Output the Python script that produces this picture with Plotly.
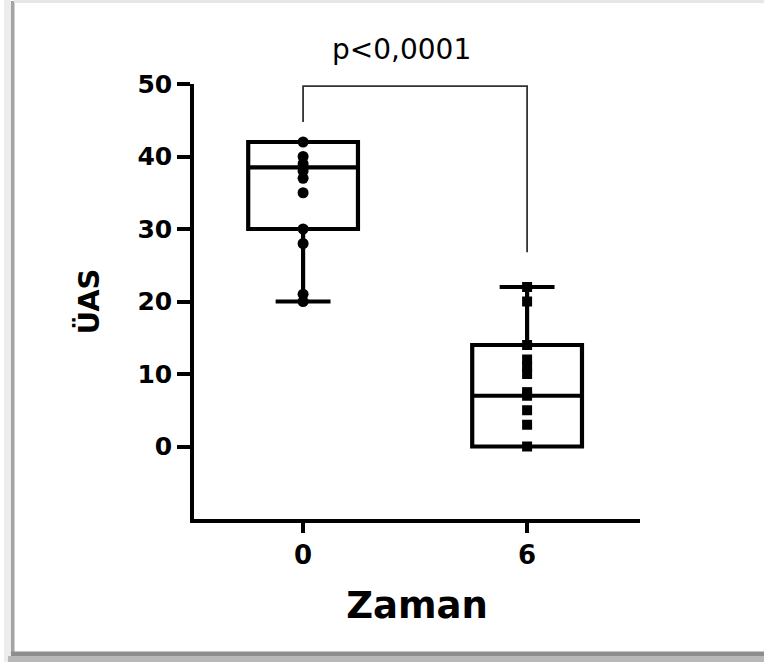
import plotly.graph_objects as go

# ---- data ----
categories = ["0", "6"]
q1 = [30, 0]
median = [38.5, 7]
q3 = [42, 14]
lower_whisker = [20, 0]
upper_whisker = [42, 22]
points_0 = [42, 40, 39, 38.5, 38, 37, 35, 30, 28, 21, 20]
points_6 = [22, 20, 14, 12, 11, 10, 7.5, 7, 5, 3, 0]
bracket_y = [44.75, 49.7, 49.7, 26.8]
p_text = "p<0,0001"
y_ticks = [0, 10, 20, 30, 40, 50]

FONT = "DejaVu Sans"

fig = go.Figure()

fig.add_trace(go.Box(
    x=categories, q1=q1, median=median, q3=q3,
    lowerfence=lower_whisker, upperfence=upper_whisker,
    boxpoints=False, width=0.49, whiskerwidth=0.5,
    fillcolor="white", line=dict(color="black", width=4.2),
    hoverinfo="skip", showlegend=False,
))

fig.add_trace(go.Scatter(
    x=[categories[0]] * len(points_0), y=points_0, mode="markers",
    marker=dict(symbol="circle", size=11, color="black"),
    cliponaxis=False, showlegend=False, hoverinfo="skip",
))
fig.add_trace(go.Scatter(
    x=[categories[1]] * len(points_6), y=points_6, mode="markers",
    marker=dict(symbol="square", size=10, color="black"),
    cliponaxis=False, showlegend=False, hoverinfo="skip",
))

fig.add_trace(go.Scatter(
    x=[categories[0], categories[0], categories[1], categories[1]], y=bracket_y,
    mode="lines", line=dict(color="#333333", width=1.8),
    cliponaxis=False, showlegend=False, hoverinfo="skip",
))

L, R, T, B = 194, 124, 84, 143
W, H = 764, 662
PW, PH = W - L - R, H - T - B

def px(x):
    return (x - L) / PW

def py(y):
    return (H - B - y) / PH

shapes = [
    dict(type="rect", xref="paper", yref="paper", x0=px(4), x1=px(11), y0=py(0), y1=py(662),
         fillcolor="#ececec", line_width=0, layer="below"),
    dict(type="rect", xref="paper", yref="paper", x0=px(11), x1=px(14.5), y0=py(1), y1=py(656),
         fillcolor="#a3a3a3", line_width=0, layer="below"),
    dict(type="rect", xref="paper", yref="paper", x0=px(14), x1=px(764), y0=py(0), y1=py(3),
         fillcolor="#e6e6e6", line_width=0, layer="below"),
    dict(type="rect", xref="paper", yref="paper", x0=px(11), x1=px(764), y0=py(651.5), y1=py(656),
         fillcolor="#8e8e8e", line_width=0, layer="below"),
    dict(type="rect", xref="paper", yref="paper", x0=px(8), x1=px(764), y0=py(656), y1=py(662),
         fillcolor="#b8b8b8", line_width=0, layer="below"),
]

fig.update_layout(
    width=W, height=H,
    margin=dict(l=L, r=R, t=T, b=B),
    paper_bgcolor="white", plot_bgcolor="white",
    shapes=shapes,
    font=dict(family=FONT, color="black"),
    xaxis=dict(
        type="category", range=[-0.487, 1.504],
        showline=True, linecolor="black", linewidth=3.5,
        ticks="outside", ticklen=10, tickwidth=3.5, tickcolor="black",
        showgrid=False, zeroline=False,
        tickfont=dict(family=FONT, size=26, weight="bold", color="black"),
        title=dict(text="Zaman", font=dict(family=FONT, size=37, weight="bold", color="black"), standoff=24),
    ),
    yaxis=dict(
        range=[-10, 50], tickvals=y_ticks,
        showline=True, linecolor="black", linewidth=3.5,
        ticks="outside", ticklen=13, tickwidth=3.5, tickcolor="black",
        showgrid=False, zeroline=False,
        tickfont=dict(family=FONT, size=25, weight="bold", color="black"),
        title=dict(text="ÜAS", font=dict(family=FONT, size=29, weight="bold", color="black"), standoff=30),
    ),
    annotations=[dict(
        text=p_text, xref="paper", yref="paper", x=px(401), y=py(50),
        xanchor="center", yanchor="middle", showarrow=False,
        font=dict(family=FONT, size=28, color="black"),
    )],
)

fig.write_html("out.html")
